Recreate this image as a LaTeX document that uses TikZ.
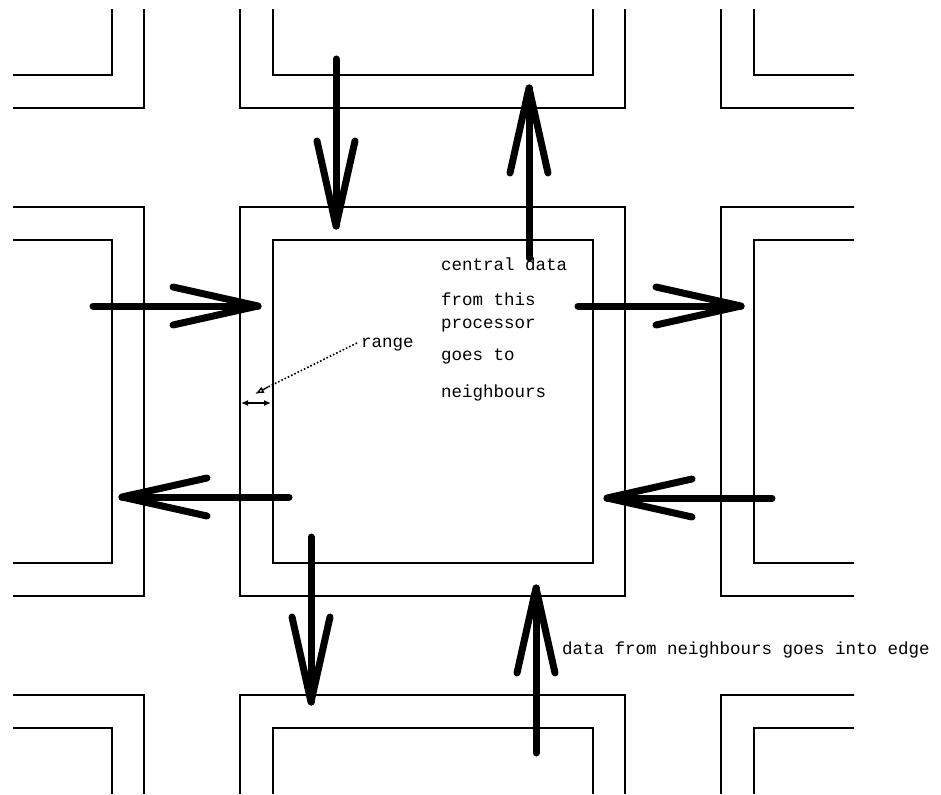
\documentclass[tikz,border=0pt]{standalone}
\usepackage{fontspec}
\setmonofont{Liberation Mono}
\usetikzlibrary{calc,arrows.meta}

\tikzset{
  cellline/.style={line width=2pt, black},
  bigshaft/.style={line width=7pt, line cap=round, line join=round, black},
  label/.style={font=\ttfamily\fontsize{17.5}{20}\selectfont, inner sep=0pt, anchor=west},
  rangeline/.style={line width=1.6pt, dotted, black},
  rangewidth/.style={line width=1.6pt, {Latex[length=7pt,width=6pt]}-{Latex[length=7pt,width=6pt]}},
}

% thick arrow with an open V head: #1 = tail, #2 = tip
\newcommand{\flowarrow}[2]{%
  \draw[bigshaft] (#1) -- (#2);
  \draw[bigshaft] ($(#2)!87.1pt!12.6:(#1)$) -- (#2) -- ($(#2)!87.1pt!-12.6:(#1)$);
}

\begin{document}
\begin{tikzpicture}[x=1pt, y=-1pt]
\useasboundingbox (0,0) rectangle (941,794);

% processor grid: each cell is an outer edge region and an inner core
\begin{scope}
  \clip (13,10) rectangle (854,793);
  \foreach \i in {-1,0,1} {
    \foreach \j in {-1,0,1} {
      \pgfmathsetmacro{\xa}{240+481*\i}
      \pgfmathsetmacro{\ya}{207+488*\j}
      \draw[cellline] (\xa,\ya) rectangle ++(385,389);
      \draw[cellline] (\xa+32.5,\ya+33) rectangle ++(320,323);
    }
  }
\end{scope}

% arrow end points
\coordinate (inTopA)    at (336,59);   \coordinate (inTopB)    at (336,226);
\coordinate (outTopA)   at (529,258);  \coordinate (outTopB)   at (529,88);
\coordinate (inLeftA)   at (93,306);   \coordinate (inLeftB)   at (258,306);
\coordinate (outRightA) at (578,306);  \coordinate (outRightB) at (741,306);
\coordinate (outLeftA)  at (289,497);  \coordinate (outLeftB)  at (122,497);
\coordinate (inRightA)  at (772,498);  \coordinate (inRightB)  at (607,498);
\coordinate (outBotA)   at (311,537);  \coordinate (outBotB)   at (311,702);
\coordinate (inBotA)    at (536,753);  \coordinate (inBotB)    at (536,588);

\flowarrow{inTopA}{inTopB}
\flowarrow{outTopA}{outTopB}
\flowarrow{inLeftA}{inLeftB}
\flowarrow{outRightA}{outRightB}
\flowarrow{outLeftA}{outLeftB}
\flowarrow{inRightA}{inRightB}
\flowarrow{outBotA}{outBotB}
\flowarrow{inBotA}{inBotB}

% labels
\node[label] (c1) at (441,264) {central data};
\node[label] (c2) at (441,299) {from this};
\node[label] (c3) at (441,326) {processor};
\node[label] (c4) at (441,356) {goes to};
\node[label] (c5) at (441,393) {neighbours};
\node[label] (rng) at (361,345) {range};
\node[label] (edge) at (562,650) {data from neighbours goes into edge};

% range marker
\coordinate (rangeTip) at (255,394);
\coordinate (edgeL) at (241,403);
\coordinate (edgeR) at (271,403);
\draw[rangeline] ($(rng.west)+(-4,-2)$) -- (268,387);
\draw[line width=1.4pt, -{Latex[length=9pt,width=7pt,open]}] (268,387) -- (rangeTip);
\draw[rangewidth] (edgeL) -- (edgeR);

\end{tikzpicture}
\end{document}
